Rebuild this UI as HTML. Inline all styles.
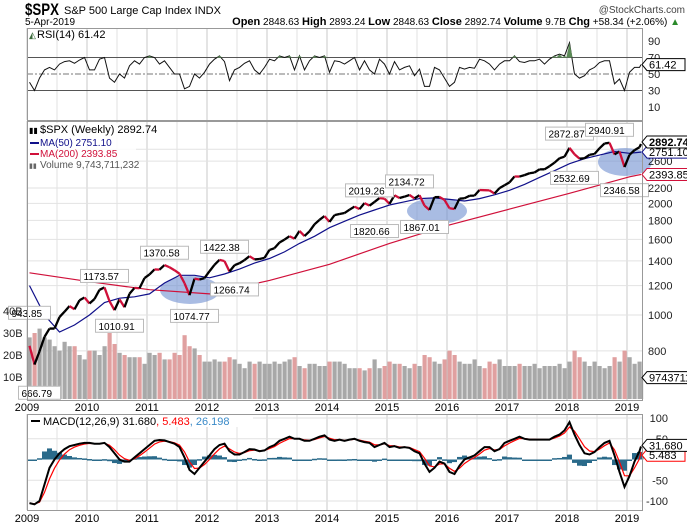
<!DOCTYPE html>
<html><head><meta charset="utf-8">
<style>
body{margin:0;background:#fff;width:687px;height:525px;overflow:hidden;font-family:"Liberation Sans",sans-serif}
svg text{font-family:"Liberation Sans",sans-serif}
</style></head>
<body>
<svg id="chart" width="687" height="525" viewBox="0 0 687 525" xmlns="http://www.w3.org/2000/svg">
<g>
<text x="25" y="15" font-size="17" font-weight="bold" textLength="34" lengthAdjust="spacingAndGlyphs">$SPX</text>
<text x="64" y="14" font-size="11">S&amp;P 500 Large Cap Index  INDX</text>
<text x="685" y="13" font-size="10" fill="#444" text-anchor="end">@StockCharts.com</text>
<text x="25" y="25" font-size="10">5-Apr-2019</text>
<text x="680" y="25" font-size="10" text-anchor="end"><tspan font-weight="bold" font-size="11">Open</tspan> 2848.63 <tspan font-weight="bold" font-size="11">High</tspan> 2893.24 <tspan font-weight="bold" font-size="11">Low</tspan> 2848.63 <tspan font-weight="bold" font-size="11">Close</tspan> 2892.74 <tspan font-weight="bold" font-size="11">Volume</tspan> 9.7B <tspan font-weight="bold" font-size="11">Chg</tspan> +58.34 (+2.06%) <tspan fill="#2a8a2a">▲</tspan></text>
</g>
</svg>
<script>
// ---- data (monthly, Jan 2009 .. Apr 2019) ----
const years = ["2009","2010","2011","2012","2013","2014","2015","2016","2017","2018","2019"];
const closes = [825.9,735.1,797.9,872.8,919.1,919.3,987.5,1020.6,1057.1,1036.2,1095.6,1115.1,
1073.9,1104.5,1169.4,1186.7,1089.4,1030.7,1101.6,1049.3,1141.2,1183.3,1180.6,1257.6,
1286.1,1327.2,1325.8,1363.6,1345.2,1320.6,1292.3,1218.9,1131.4,1253.3,1247.0,1257.6,
1312.4,1365.7,1408.5,1397.9,1310.3,1362.2,1379.3,1406.6,1440.7,1412.2,1416.2,1426.2,
1498.1,1514.7,1569.2,1597.6,1630.7,1606.3,1685.7,1633.0,1681.6,1756.5,1805.8,1848.4,
1782.6,1859.5,1872.3,1883.9,1923.6,1960.2,1930.7,2003.4,1972.3,2018.1,2067.6,2058.9,
1995.0,2104.5,2067.9,2085.5,2107.4,2063.1,2103.8,1972.2,1920.0,2079.4,2080.4,2043.9,
1940.2,1932.2,2059.7,2065.3,2096.9,2098.9,2173.6,2170.9,2168.3,2126.2,2199.0,2238.8,
2278.9,2363.6,2362.7,2384.2,2411.8,2423.4,2470.3,2471.7,2519.4,2575.3,2647.6,2673.6,
2823.8,2713.8,2640.9,2648.1,2705.3,2718.4,2816.3,2901.5,2913.98,2711.7,2760.2,2506.9,
2704.1,2784.5,2834.4,2892.74];
const volumes = [28,30,32,28,27,24,22,26,24,24,20,18, 22,22,20,24,30,25,21,20,19,19,19,16,
21,20,21,18,18,21,20,29,24,23,20,17, 17,18,17,17,19,18,16,14,17,16,17,16,
16,17,16,17,18,19,15,14,16,16,15,15, 17,17,17,16,14,14,14,13,14,18,14,15,
17,16,16,15,14,16,15,20,19,17,16,18, 22,20,17,16,16,18,15,14,17,16,18,15,
15,15,16,15,15,16,14,15,15,15,16,14, 17,22,19,17,15,17,15,14,15,19,17,22, 19,16,17,9.74];
const rsi = [40,30,45,55,58,55,62,65,66,63,67,70, 55,55,68,70,45,40,50,45,60,66,62,70,
72,70,62,66,58,50,50,32,35,50,45,52, 62,68,72,65,42,55,58,63,66,55,50,58,
68,66,72,70,72,55,72,55,66,72,70,72, 52,66,65,62,66,70,55,66,55,50,68,62,
50,65,55,58,60,48,56,35,35,58,55,45, 35,40,58,56,58,57,68,66,62,55,62,66,
66,72,65,64,66,66,68,62,68,72,74,72, 88,50,45,48,55,58,64,66,66,38,44,30, 52,58,58,61.42];
const macd = [-105,-108,-100,-60,-20,0,15,25,32,35,38,40, 40,38,38,40,30,15,0,-5,-5,5,15,25,
35,45,47,46,42,38,30,5,-25,-35,-20,-5, 10,25,35,38,20,12,12,18,25,24,20,22,
30,35,45,50,55,50,50,45,45,50,55,58, 48,45,48,45,48,50,45,42,40,30,35,40,
30,32,28,30,28,20,15,-10,-30,-20,-5,-10, -30,-35,-15,0,5,10,20,30,30,20,25,40,
45,50,55,50,48,48,48,48,48,55,60,70, 90,60,35,15,12,18,30,40,45,10,-30,-66, -40,-5,20,31.68];
const ma50Months = [0,3,6,9,12,15,18,21,24,27,30,33,36,39,42,45,48,51,54,57,60,63,66,69,72,75,78,81,84,87,90,93,96,99,102,105,108,111,114,117,120,123];
const ma50 = [1200,1000,900,940,1000,1080,1110,1120,1140,1220,1280,1280,1260,1290,1330,1380,1420,1480,1560,1630,1720,1790,1860,1920,1980,2020,2060,2070,2050,2030,2060,2110,2170,2250,2350,2450,2560,2640,2700,2760,2730,2751.10];
const ma200Months = [0,12,24,36,48,60,72,84,96,108,120,123];
const ma200 = [1300,1230,1170,1140,1240,1370,1560,1750,1930,2130,2360,2393.85];
const annMonths = [0,2,15,18,27,33,39,41,68,69,76,79,108,109,116,119];
const annValues = [943.85,666.79,1173.57,1010.91,1370.58,1074.77,1422.38,1266.74,2019.26,1820.66,2134.72,1867.01,2872.87,2532.69,2940.91,2346.58];
const annAbove = [1,0,1,0,1,0,1,0,1,0,1,0,1,0,1,0];
const priceTicks = [800,1000,1200,1400,1600,1800,2000,2200,2600,2800];
const volTicks = [10,20,30,40];
const rsiTicks = [10,30,50,70,90];
const macdTicks = [-100,-50,50,100];

const L=27, R=642;
const svg=document.getElementById('chart');
const NS='http://www.w3.org/2000/svg';
function mk(tag,attrs,parent){const e=document.createElementNS(NS,tag);for(const k in attrs)e.setAttribute(k,attrs[k]);(parent||svg).appendChild(e);return e;}
function xM(i){return Math.min(R-1, L+i*5+2.5);}
function xYear(k){return L+k*60;}
const yP=p=>315-161*Math.log(p/1000);
const yV=v=>399-2.2*v;
const yR=v=>107-(v-10)*0.825;
const yM=v=>459.5-0.415*v;

function panel(name,top,bot){
  const g=mk('g',{});
  
  
  mk('rect',{x:L,y:top,width:R-L,height:bot-top,fill:'#fff',stroke:'none'},g);
  for(let k=0;k<21;k++){const x=L+k*30; if(x>R)break;
    const ln=mk('line',{x1:x,x2:x,y1:top,y2:bot,stroke:k%2?'#e2e2e2':'#c8c8c8','stroke-width':1},g);
    
    }
  return g;
}
function border(top,bot){const r=mk('rect',{x:L+0.5,y:top+0.5,width:R-L,height:bot-top,fill:'none',stroke:'#999'});
  
  }
function label(txt,x,y,opt){opt=opt||{};const t=mk('text',{x:x,y:y,'font-size':opt.size||10,fill:opt.fill||'#000','text-anchor':opt.anchor||'start','font-weight':opt.bold?'bold':'normal'},opt.parent);t.textContent=txt;return t;}
function valBox(txt,y,color,name,bold){
  const g=mk('g',{});
  
  
  const w=txt.length*6.4+6;
  mk('path',{d:`M${R} ${y} L${R+5} ${y-6} L${R+5+w} ${y-6} L${R+5+w} ${y+6} L${R+5} ${y+6} Z`,fill:'#fff',stroke:color},g);
  label(txt,R+7,y+4,{size:11,bold:bold,parent:g});
}

// RSI
const gR=panel('rsi-panel',28,120);
[30,70].forEach(v=>{const l=mk('line',{x1:L,x2:R,y1:yR(v),y2:yR(v),stroke:'#555'},gR);});
mk('line',{x1:L,x2:R,y1:yR(50),y2:yR(50),stroke:'#777','stroke-dasharray':'6,2,2,2'},gR);
let rp='';rsi.forEach((v,i)=>{rp+=(i?'L':'M')+xM(i).toFixed(1)+' '+yR(v).toFixed(1);});
const rsiLine=mk('path',{d:rp,fill:'none',stroke:'#111','stroke-width':1},gR);


rsi.forEach((v,i)=>{if(v>70){const f=mk('path',{d:`M${xM(i)-3} ${yR(70)} L${xM(i)} ${yR(v)} L${xM(i)+3} ${yR(70)} Z`,fill:'#5a8a55'},gR);}});
rsiTicks.forEach(v=>label(String(v),R+6,yR(v)+4,{size:11,fill:'#222'}));
label('RSI(14) 61.42',L+10,38,{size:11});
label('◭',L+2,38,{size:9,fill:'#3a6a3a'});
border(28,120);
valBox('61.42',yR(61.42),'#000','rsi-value-tag',false);

// price
const gP=panel('price-panel',121,400);
priceTicks.forEach(p=>{const l=mk('line',{x1:L,x2:R,y1:yP(p),y2:yP(p),stroke:'#e2e2e2'},gP);
  label(String(p),R+6,yP(p)+4,{size:11,fill:'#222'});});
volumes.forEach((v,i)=>{const up=i==0||closes[i]>=closes[i-1];
  const b=mk('rect',{x:xM(i)-2,y:yV(v),width:4.2,height:399-yV(v),fill:up?'#a8a8a8':'#e0a0a0'},gP);
  
  });
volTicks.forEach(v=>label(v+'B',3,yV(v)+4,{size:11,fill:'#222'}));
[[190,290,30,14],[437,211,30,13],[625,162,27,14]].forEach(e=>{const el=mk('ellipse',{cx:e[0],cy:e[1],rx:e[2],ry:e[3],fill:'#6f8fd0','fill-opacity':0.6},gP);});
function series(months,vals){let d='';months.forEach((m,k)=>{d+=(k?'L':'M')+xM(m).toFixed(1)+' '+yP(vals[k]).toFixed(1);});return d;}
const m200=mk('path',{d:series(ma200Months,ma200),fill:'none',stroke:'#d0103a','stroke-width':1.2},gP);


const m50=mk('path',{d:series(ma50Months,ma50),fill:'none',stroke:'#10108a','stroke-width':1.2},gP);


closes.forEach((c,i)=>{if(!i)return;const up=c>=closes[i-1];
  const s=mk('line',{x1:xM(i-1),y1:yP(closes[i-1]),x2:xM(i),y2:yP(c),stroke:up?'#000':'#d0103a','stroke-width':2.3},gP);
  
  });
annMonths.forEach((m,k)=>{const v=annValues[k],x=xM(m),txt=v.toFixed(2),w=txt.length*6+6;
  const y=yP(Math.min(Math.max(v,closes[m]*0.9),closes[m]*1.1));
  const yy=annAbove[k]?yP(Math.max(v,closes[m]))-18:yP(Math.min(v,closes[m]))+6;
  const g=mk('g',{},gP);
  
  
  mk('rect',{x:Math.max(1,x-w/2),y:yy,width:w,height:13,fill:'#fff',stroke:'#bbb'},g);
  label(txt,Math.max(1,x-w/2)+3,yy+10.5,{size:10,parent:g});});
const lg=mk('g',{},gP);


mk('rect',{x:L+1,y:123,width:108,height:44,fill:'#fff','fill-opacity':0.85},lg);
label('$SPX (Weekly) 2892.74',L+13,133,{size:11,parent:lg});
label('▮▮',L+2,133,{size:8,parent:lg});
mk('rect',{x:L+3,y:142,width:9,height:2,fill:'#10108a'},lg);
label('MA(50) 2751.10',L+13,146,{size:10,fill:'#10108a',parent:lg});
mk('rect',{x:L+3,y:153,width:9,height:2,fill:'#d0103a'},lg);
label('MA(200) 2393.85',L+13,157,{size:10,fill:'#d0103a',parent:lg});
label('▮▮',L+2,168,{size:7,fill:'#666',parent:lg});
label('Volume 9,743,711,232',L+13,168,{size:10,fill:'#555',parent:lg});
border(121,400);
valBox('2393.85',yP(2393.85),'#d0103a','ma200-value-tag',false);
valBox('2751.10',yP(2751.10),'#10108a','ma50-value-tag',false);
valBox('2892.74',yP(2892.74)-2,'#000','close-value-tag',true);
valBox('9743711',yV(9.74),'#000','volume-value-tag',false);
years.forEach((y,k)=>label(y,xYear(k),411,{size:11,anchor:'middle'}));

// MACD
const gM=panel('macd-panel',414,510);
macdTicks.forEach(v=>{const l=mk('line',{x1:L,x2:R,y1:yM(v),y2:yM(v),stroke:'#e2e2e2'},gM);
  label(String(v),R+26,yM(v)+4,{size:11,fill:'#222',anchor:'end'});});
const signal=[];macd.forEach((v,i)=>{signal.push(i?signal[i-1]+0.55*(v-signal[i-1]):v);});
macd.forEach((v,i)=>{const h=v-signal[i];const y0=yM(0),y1=yM(h);
  const b=mk('rect',{x:xM(i)-2.5,y:Math.min(y0,y1),width:5,height:Math.max(1.5,Math.abs(y1-y0)),fill:'#2a6a8a'},gM);
  
  });
function mline(vals){let d='';vals.forEach((v,i)=>{d+=(i?'L':'M')+xM(i).toFixed(1)+' '+yM(v).toFixed(1);});return d;}
const sl=mk('path',{d:mline(signal),fill:'none',stroke:'#f00','stroke-width':1.2},gM);


const ml=mk('path',{d:mline(macd),fill:'none',stroke:'#000','stroke-width':2},gM);


const ml2=mk('g',{},gM);


mk('rect',{x:L+1,y:415,width:225,height:12,fill:'#fff'},ml2);
mk('rect',{x:L+4,y:420,width:9,height:2,fill:'#000'},ml2);
const mt=label('MACD(12,26,9) 31.680',L+16,425,{size:11,parent:ml2});
const t2=mk('tspan',{fill:'#f00'},mt);t2.textContent=', 5.483';
const t3=mk('tspan',{fill:'#3a8ac8'},mt);t3.textContent=', 26.198';
border(414,510);
valBox('5.483',yM(5.483)-2,'#f00','macd-signal-tag',false);
valBox('31.680',yM(31.68)-1,'#000','macd-value-tag',false);
years.forEach((y,k)=>label(y,xYear(k),522,{size:11,anchor:'middle'}));
</script>
</body></html>
